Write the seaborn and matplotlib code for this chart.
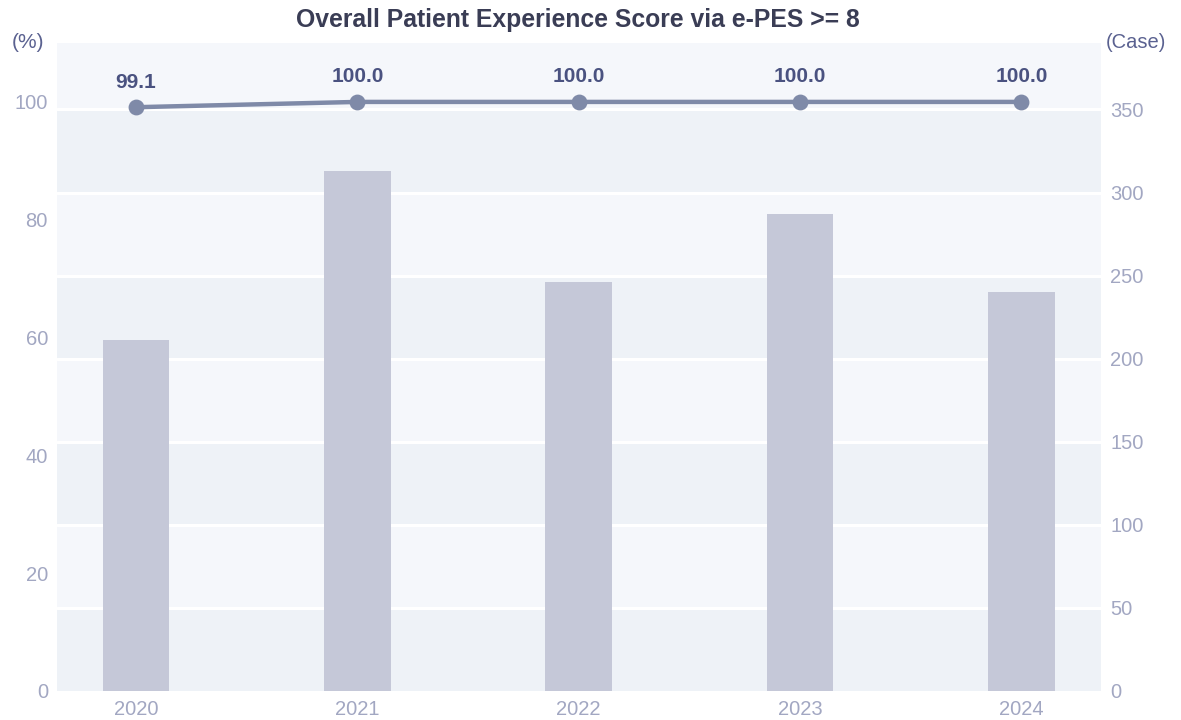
import matplotlib
matplotlib.use("Agg")
import matplotlib.pyplot as plt
import seaborn as sns
import numpy as np

years = ["2020", "2021", "2022", "2023", "2024"]
cases = [211, 313, 246, 287, 240]
pct = [99.1, 100.0, 100.0, 100.0, 100.0]
case_ticks = [0, 50, 100, 150, 200, 250, 300, 350]
pct_ticks = [0, 20, 40, 60, 80, 100]

sns.set_theme(style="white")
plt.rcParams['font.family'] = ['Liberation Sans', 'DejaVu Sans']

W, H = 1181, 720
fig = plt.figure(figsize=(W / 100, H / 100), dpi=100)
fig.patch.set_facecolor('white')
ax = fig.add_axes([57 / W, 1 - 691 / H, (1101 - 57) / W, (691 - 43) / H])
ax.set_facecolor('#f5f7fb')

# alternating bands and white grid lines on the case axis
for i in range(len(case_ticks) - 1):
    if i % 2 == 0:
        ax.axhspan(case_ticks[i], case_ticks[i + 1], color='#eef2f7', lw=0, zorder=0)
for t in case_ticks[1:]:
    ax.axhline(t, color='white', lw=2.2, zorder=1)

sns.barplot(x=years, y=cases, ax=ax, color='#c5c8d8', width=0.3,
            saturation=1, zorder=2, linewidth=0, edgecolor='none')
ax.set_ylim(0, 390)

ax2 = ax.twinx()
sns.pointplot(x=years, y=pct, ax=ax2, color='#7f8aa8', markersize=9,
              linewidth=3.2, errorbar=None)
ax2.set_ylim(0, 110)
for i, v in enumerate(pct):
    ax2.annotate(f"{v:.1f}", (i, v), xytext=(0, 18), textcoords='offset points',
                 ha='center', va='center', fontsize=15, fontweight='bold',
                 color='#4a5280')

ax.yaxis.tick_right()
ax.set_yticks(case_ticks)
ax.set_yticklabels([str(t) for t in case_ticks])
ax2.yaxis.tick_left()
ax2.set_yticks(pct_ticks)
ax2.set_yticklabels([str(t) for t in pct_ticks])

for a in (ax, ax2):
    for s in a.spines.values():
        s.set_visible(False)
    a.grid(False)
    a.set_xlabel('')
    a.set_ylabel('')
    a.tick_params(axis='both', length=0, labelsize=14.5, colors='#a2a7c2', pad=6.5)

ax.set_xlim(-0.357, 4.36)
ax2.set_xlim(-0.357, 4.36)

fig.text(578 / W, 1 - 20 / H, "Overall Patient Experience Score via e-PES >= 8",
         ha='center', va='center', fontsize=17.8, fontweight='bold', color='#3a3d55')
fig.text(28 / W, 1 - 43 / H, "(%)", ha='center', va='center', fontsize=15, color='#5a6190')
fig.text(1136 / W, 1 - 42 / H, "(Case)", ha='center', va='center', fontsize=14.5, color='#5a6190')

fig.savefig("out.png", dpi=100)
